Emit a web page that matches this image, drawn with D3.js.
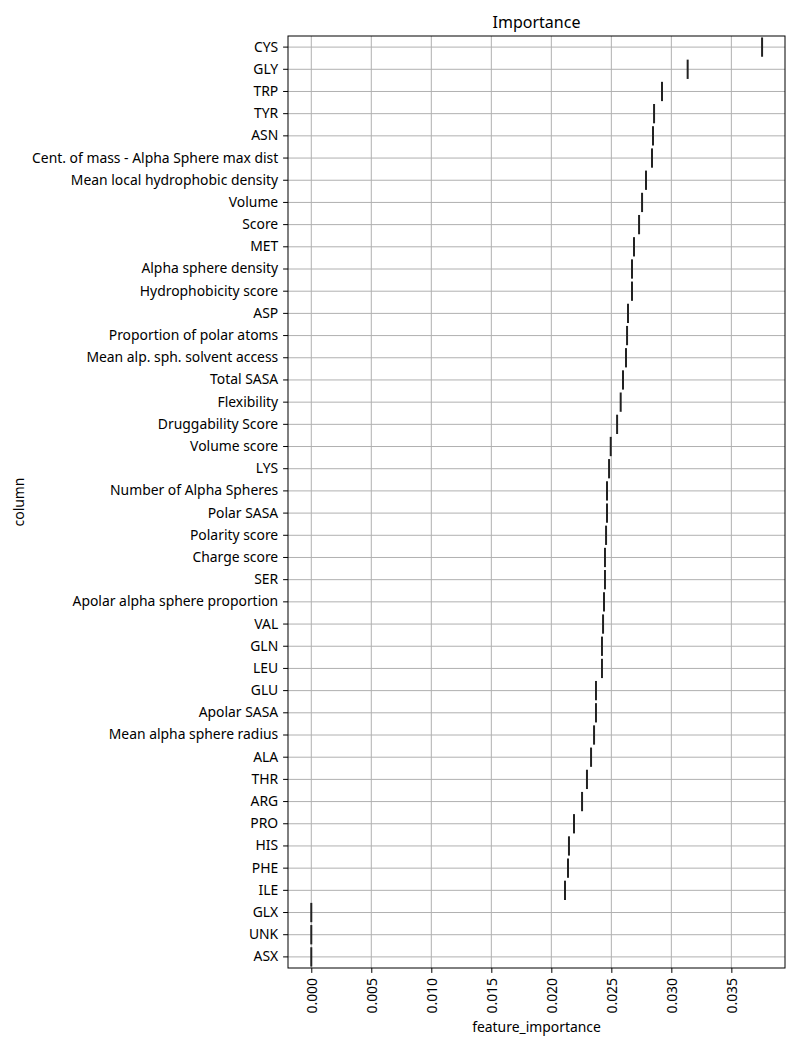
<!DOCTYPE html>
<html><head><meta charset="utf-8">
<script src="https://cdn.jsdelivr.net/npm/d3@7"></script>
<style>body{margin:0;background:#fff}</style>
</head><body><div id="c"></div>
<script>
const categories = ["CYS","GLY","TRP","TYR","ASN","Cent. of mass - Alpha Sphere max dist","Mean local hydrophobic density","Volume","Score","MET","Alpha sphere density","Hydrophobicity score","ASP","Proportion of polar atoms","Mean alp. sph. solvent access","Total SASA","Flexibility","Druggability Score","Volume score","LYS","Number of Alpha Spheres","Polar SASA","Polarity score","Charge score","SER","Apolar alpha sphere proportion","VAL","GLN","LEU","GLU","Apolar SASA","Mean alpha sphere radius","ALA","THR","ARG","PRO","HIS","PHE","ILE","GLX","UNK","ASX"];
const values = [0.03756,0.03136,0.02922,0.02856,0.02847,0.02839,0.02789,0.02756,0.02731,0.02689,0.02672,0.02672,0.02639,0.02631,0.02622,0.02597,0.02578,0.02548,0.02495,0.02481,0.02464,0.02464,0.02456,0.02447,0.02447,0.02439,0.02431,0.02422,0.02422,0.02372,0.02372,0.02356,0.02331,0.02297,0.02256,0.02189,0.02147,0.02139,0.02114,0,0,0];
const xTicks = [0,0.005,0.010,0.015,0.020,0.025,0.030,0.035];

const W=800,H=1050, L=288, R=785, T=36, B=968;
const font = "'Noto Sans', sans-serif";
const fs = "13.9px";
const svg = d3.select("#c").append("svg").attr("width",W).attr("height",H)
  .style("font-family",font);

const x = d3.scaleLinear().domain([-0.00194,0.03947]).range([L,R]);
const y = d3.scaleBand().domain(categories).range([T,B]).paddingInner(0).paddingOuter(0);
const yc = d => y(d)+y.bandwidth()/2;

const g = svg.append("g");
g.selectAll(".gx").data(xTicks).join("line")
  .attr("x1",d=>x(d)).attr("x2",d=>x(d)).attr("y1",T).attr("y2",B)
  .attr("stroke","#b0b0b0").attr("stroke-width",1);
g.selectAll(".gy").data(categories).join("line")
  .attr("x1",L).attr("x2",R).attr("y1",d=>yc(d)).attr("y2",d=>yc(d))
  .attr("stroke","#b0b0b0").attr("stroke-width",1);

const mh = y.bandwidth()*0.87;
svg.append("g").selectAll("line").data(categories).join("line")
  .attr("x1",(d,i)=>x(values[i])).attr("x2",(d,i)=>x(values[i]))
  .attr("y1",d=>yc(d)-mh/2).attr("y2",d=>yc(d)+mh/2)
  .attr("stroke","#222").attr("stroke-width",2);

const xa = svg.append("g").attr("transform",`translate(0,${B})`)
  .call(d3.axisBottom(x).tickValues(xTicks).tickFormat(d3.format(".3f")).tickSize(4.9).tickPadding(4.9));
xa.select(".domain").remove();
xa.selectAll("text").attr("transform","rotate(-90)").attr("text-anchor","end")
  .attr("x",-10).attr("y",0).attr("dy","0.35em").style("font-size",fs).style("font-family",font).attr("fill","#000");
xa.selectAll("line").attr("stroke","#000");

const ya = svg.append("g").attr("transform",`translate(${L},0)`)
  .call(d3.axisLeft(y).tickSize(4.9).tickPadding(4.9));
ya.select(".domain").remove();
ya.selectAll("text").style("font-size",fs).style("font-family",font).attr("fill","#000");
ya.selectAll("line").attr("stroke","#000");

svg.append("rect").attr("x",L).attr("y",T).attr("width",R-L).attr("height",B-T)
  .attr("fill","none").attr("stroke","#000").attr("stroke-width",1);

svg.append("text").attr("x",(L+R)/2).attr("y",28).attr("text-anchor","middle")
  .style("font-size","16px").text("Importance");
svg.append("text").attr("x",(L+R)/2).attr("y",1032).attr("text-anchor","middle")
  .style("font-size",fs).text("feature_importance");
svg.append("text").attr("transform",`translate(24,${(T+B)/2}) rotate(-90)`).attr("text-anchor","middle")
  .style("font-size",fs).text("column");
</script></body></html>
